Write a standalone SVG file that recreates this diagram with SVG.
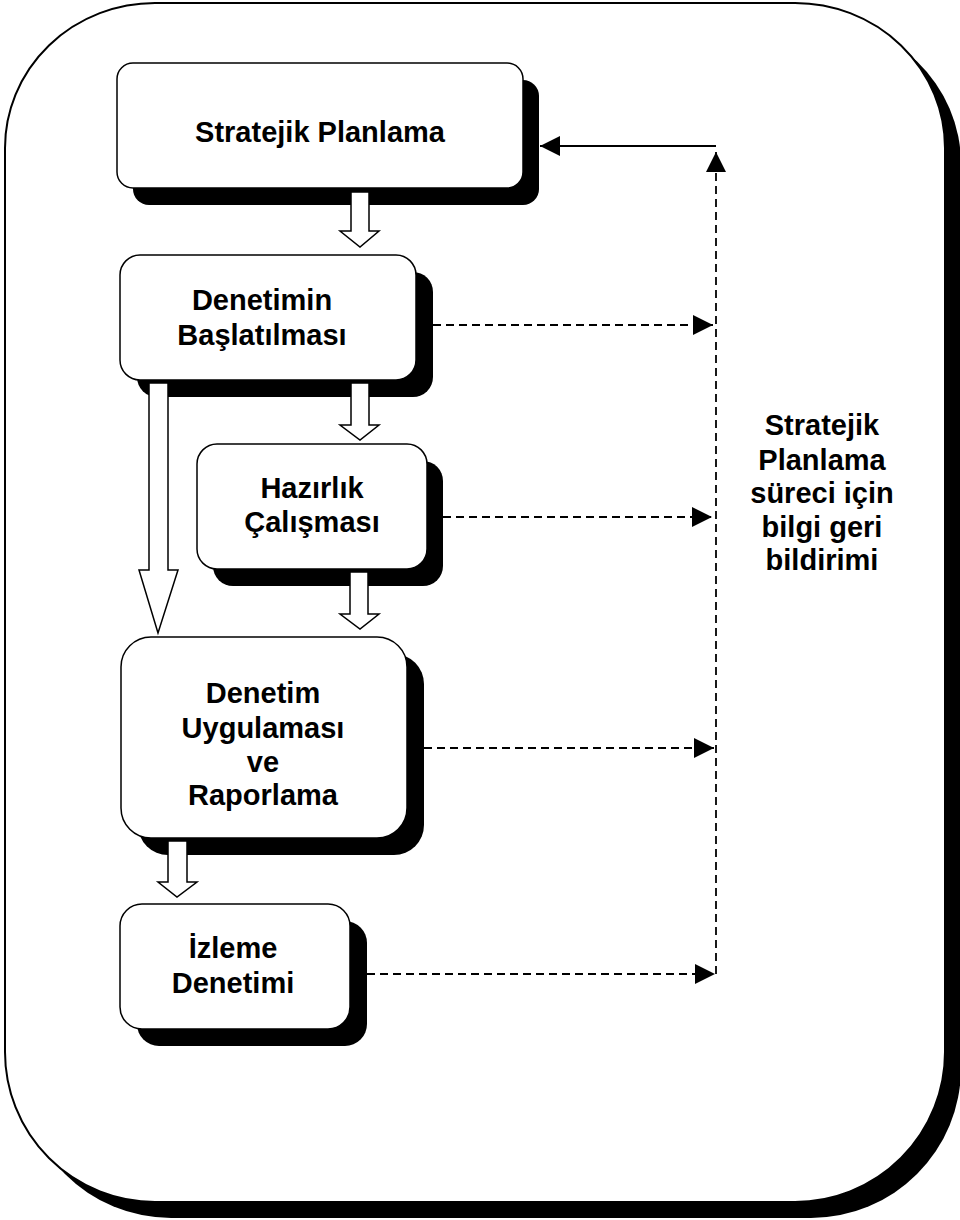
<svg xmlns="http://www.w3.org/2000/svg" width="960" height="1220" viewBox="0 0 960 1220">
<style>
.box{fill:#fff;stroke:#000;stroke-width:1.5}
.shadow{fill:#000}
.lbl{font-family:"Liberation Sans",Arial,sans-serif;font-weight:bold;font-size:29px;fill:#000;text-anchor:middle}
.blk{fill:#fff;stroke:#000;stroke-width:1.5;stroke-linejoin:miter}
.dash{fill:none;stroke:#000;stroke-width:1.8;stroke-dasharray:8 5}
.solid{fill:none;stroke:#000;stroke-width:1.8}
</style>
<defs>
<marker id="tri" viewBox="0 0 20 20" refX="20" refY="10" markerWidth="20" markerHeight="20" markerUnits="userSpaceOnUse" orient="auto">
<path d="M0,0 L20,10 L0,20 Z" fill="#000"/>
</marker>
</defs>
<rect width="960" height="1220" fill="#fff"/>
<g id="frame">
<path class="shadow" d="M171,19 H811 A150,145 0 0 1 961,164 V1068 A150,150 0 0 1 811,1218 H171 A150,150 0 0 1 21,1068 V164 A150,145 0 0 1 171,19 Z"/>
<path d="M155,3 H795 A150,145 0 0 1 945,148 V1052 A150,150 0 0 1 795,1202 H155 A150,150 0 0 1 5,1052 V148 A150,145 0 0 1 155,3 Z" fill="#fff" stroke="#000" stroke-width="2"/>
</g>
<g id="n1">
<rect class="shadow" x="133" y="80" width="406" height="125" rx="16"/>
<rect class="box" x="117" y="63" width="406" height="125" rx="16"/>
<text class="lbl" x="320" y="142">Stratejik Planlama</text>
</g>
<g id="n2">
<rect class="shadow" x="137" y="272" width="296" height="125" rx="20"/>
<rect class="box" x="120" y="255" width="296" height="125" rx="20"/>
<text class="lbl" x="262" y="310">Denetimin</text>
<text class="lbl" x="262" y="345">Başlatılması</text>
</g>
<g id="n3">
<rect class="shadow" x="213" y="461" width="230" height="125" rx="20"/>
<rect class="box" x="197" y="444" width="230" height="125" rx="20"/>
<text class="lbl" x="312" y="498">Hazırlık</text>
<text class="lbl" x="312" y="532">Çalışması</text>
</g>
<g id="n4">
<rect class="shadow" x="138" y="654" width="286" height="201" rx="30"/>
<rect class="box" x="121" y="637" width="286" height="201" rx="30"/>
<text class="lbl" x="263" y="703">Denetim</text>
<text class="lbl" x="263" y="738">Uygulaması</text>
<text class="lbl" x="263" y="772">ve</text>
<text class="lbl" x="263" y="805">Raporlama</text>
</g>
<g id="n5">
<rect class="shadow" x="137" y="921" width="230" height="125" rx="22"/>
<rect class="box" x="120" y="904" width="230" height="125" rx="22"/>
<text class="lbl" x="233" y="958">İzleme</text>
<text class="lbl" x="233" y="993">Denetimi</text>
</g>
<g id="feedback-label">
<text class="lbl" x="822" y="435">Stratejik</text>
<text class="lbl" x="822" y="470">Planlama</text>
<text class="lbl" x="822" y="503">süreci için</text>
<text class="lbl" x="822" y="537">bilgi geri</text>
<text class="lbl" x="822" y="570">bildirimi</text>
</g>
<g id="connectors">
<path class="blk" d="M351,192 H369 V231 H379 L360,247 L340,231 H351 Z"/>
<path class="blk" d="M351,383 H369 V425 H379 L360,440 L340,425 H351 Z"/>
<path class="blk" d="M350,572 H368 V614 H379 L360,629 L340,614 H350 Z"/>
<path class="blk" d="M149,383 H168 V570 H178 L158,633 L139,570 H149 Z"/>
<path class="blk" d="M168,841 H187 V882 H197 L177,897 L158,882 H168 Z"/>
<path class="dash" d="M433,325 H713" marker-end="url(#tri)"/>
<path class="dash" d="M443,517 H712" marker-end="url(#tri)"/>
<path class="dash" d="M424,748 H714" marker-end="url(#tri)"/>
<path class="dash" d="M367,974 H715" marker-end="url(#tri)"/>
<path class="dash" d="M716,974 V152" marker-end="url(#tri)"/>
<path class="solid" d="M716,146 H540" marker-end="url(#tri)"/>
</g>
</svg>
